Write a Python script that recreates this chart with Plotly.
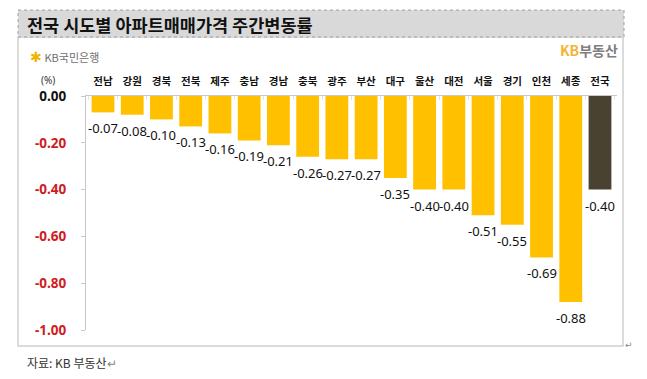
import plotly.graph_objects as go

categories = ["전남", "강원", "경북", "전북", "제주", "충남", "경남", "충북", "광주",
              "부산", "대구", "울산", "대전", "서울", "경기", "인천", "세종", "전국"]
values = [-0.07, -0.08, -0.10, -0.13, -0.16, -0.19, -0.21, -0.26, -0.27,
          -0.27, -0.35, -0.40, -0.40, -0.51, -0.55, -0.69, -0.88, -0.40]
tick_vals = [0.0, -0.2, -0.4, -0.6, -0.8, -1.0]
tick_labels = ["0.00", "-0.20", "-0.40", "-0.60", "-0.80", "-1.00"]
title_text = "전국 시도별 아파트매매가격 주간변동률"
source_text = "자료: KB 부동산"

# page body has an 8px margin; work in screen coordinates and shift
OFF = 8
W, H = 647 - OFF, 379 - OFF
L, R, T, B = 86 - OFF, 30, 96 - OFF, 49
PW, PH = W - L - R, H - T - B


def px(x):
    return (x - OFF - L) / PW


def py(y):
    return 1 - (y - OFF - T) / PH


bar_colors = ["#FFC000"] * (len(categories) - 1) + ["#4A4231"]

ticktext = []
for v, t in zip(tick_vals, tick_labels):
    c = "#111111" if v == 0 else "#D01C24"
    ticktext.append(f"<span style='color:{c}'><b>{t}</b></span>")

fig = go.Figure(go.Bar(
    x=categories, y=values,
    marker=dict(color=bar_colors, line=dict(width=0)),
    cliponaxis=False,
))

fig.update_layout(
    width=W, height=H,
    margin=dict(l=L, r=R, t=T, b=B, autoexpand=False),
    paper_bgcolor="white", plot_bgcolor="white",
    bargap=0.22, showlegend=False,
    xaxis=dict(side="top", showline=True, linecolor="#C8C8C8", linewidth=1,
               ticks="inside", ticklen=4, tickcolor="#E4E4E4", tickson="boundaries",
               ticklabelstandoff=6,
               tickfont=dict(family="Noto Sans CJK KR", size=10.5, color="#111111", weight="bold"),
               showgrid=False, zeroline=False, fixedrange=True, automargin=False),
    yaxis=dict(range=[-1.0, 0.0], tickvals=tick_vals, ticktext=ticktext,
               showline=True, linecolor="#C8C8C8", linewidth=1,
               ticks="outside", ticklen=4, tickcolor="#C8C8C8",
               ticklabelstandoff=12,
               tickfont=dict(family="Noto Sans", size=13.5),
               showgrid=False, zeroline=False, fixedrange=True, automargin=False),
)

shapes = [
    # outer frame
    dict(type="rect", xref="paper", yref="paper", x0=px(18), x1=px(623), y0=py(37), y1=py(346),
         line=dict(color="#D0D0D0", width=1.5), fillcolor="rgba(0,0,0,0)", layer="below"),
    # title bar
    dict(type="rect", xref="paper", yref="paper", x0=px(18), x1=px(624), y0=py(10), y1=py(37),
         line=dict(color="#A0A0A0", width=1, dash="dot"), fillcolor="#D9D9D9", layer="below"),
]
fig.update_layout(shapes=shapes)

annotations = [
    dict(text=f"<b>{title_text}</b>", x=px(25), y=py(24), xanchor="left", yanchor="middle",
         font=dict(family="Noto Sans CJK KR", size=17.5, color="#111111")),
    dict(text="<span style='color:#F2B400;font-size:14px'>✱</span> <span style='color:#707070'>KB국민은행</span>",
         x=px(28), y=py(56), xanchor="left", yanchor="middle",
         font=dict(family="Noto Sans CJK KR", size=11)),
    dict(text="<span style='color:#F5B335'><b>KB</b></span><span style='color:#7F7F7F'><b>부동산</b></span>",
         x=px(620), y=py(50), xanchor="right", yanchor="middle",
         font=dict(family="Noto Sans CJK KR", size=14)),
    dict(text="(%)", x=px(48), y=py(80), xanchor="center", yanchor="middle",
         font=dict(family="Noto Sans", size=10, color="#333333")),
    dict(text=source_text + "<span style='color:#888888'>↵</span>", x=px(25), y=py(362),
         xanchor="left", yanchor="middle",
         font=dict(family="Noto Sans CJK KR", size=12, color="#333333")),
    dict(text="↵", x=px(629), y=py(345), xanchor="center", yanchor="middle",
         font=dict(family="DejaVu Sans", size=9, color="#888888")),
]
for a in annotations:
    a.update(xref="paper", yref="paper", showarrow=False)

# value labels below each bar end
for c, v in zip(categories, values):
    annotations.append(dict(
        text=f"{v:.2f}", x=c, y=v, xref="x", yref="y", showarrow=False,
        xanchor="center", yanchor="middle", yshift=-16,
        font=dict(family="Noto Sans", size=13, color="#111111"),
    ))
fig.update_layout(annotations=annotations)

fig.write_html("out.html")
